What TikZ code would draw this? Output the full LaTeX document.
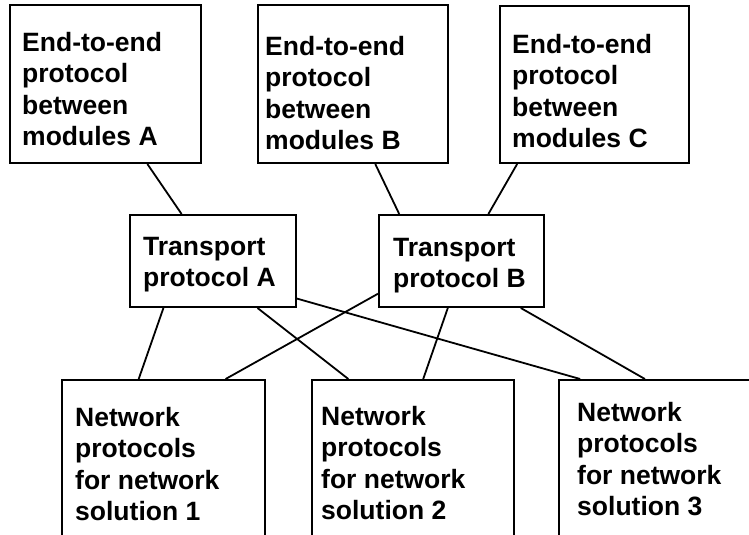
\documentclass[tikz,border=0pt]{standalone}
\usepackage{fontspec}
\setmainfont{Liberation Sans}
\usetikzlibrary{calc}
\begin{document}
\begin{tikzpicture}[x=1pt,y=-1pt,
  box/.style={draw, line width=2pt, inner sep=0pt, anchor=north west},
  txt/.style={inner sep=0pt, anchor=north west, align=left,
    font=\fontsize{26.5}{31.5}\selectfont\bfseries},
  link/.style={line width=1.8pt}]
\useasboundingbox (0,0) rectangle (749,535);
\clip (0,0) rectangle (749,535);
\fill[white] (0,0) rectangle (749,535);

% end-to-end protocol boxes
\node[box, minimum width=191pt, minimum height=158pt] (ea) at (9,4) {};
\node[box, minimum width=190pt, minimum height=158pt] (eb) at (257,4) {};
\node[box, minimum width=189pt, minimum height=157pt] (ec) at (499,5) {};
\node[txt] (ea-t) at (22,32) {End-to-end\\protocol\\between\\modules A};
\node[txt] (eb-t) at (265,36) {End-to-end\\protocol\\between\\modules B};
\node[txt] (ec-t) at (512,34) {End-to-end\\protocol\\between\\modules C};

% transport protocol boxes
\node[box, minimum width=166pt, minimum height=92pt] (ta) at (129,214) {};
\node[box, minimum width=165pt, minimum height=92pt] (tb) at (378,214) {};
\node[txt] (ta-t) at (143,237) {Transport\\protocol A};
\node[txt] (tb-t) at (393,238) {Transport\\protocol B};

% network protocol boxes (run past the lower edge)
\node[box, minimum width=203pt, minimum height=200pt] (n1) at (61,379) {};
\node[box, minimum width=202pt, minimum height=200pt] (n2) at (311,379) {};
\node[box, minimum width=203pt, minimum height=200pt] (n3) at (558,379) {};
\node[txt] (n1-t) at (75,407) {Network\\protocols\\for network\\solution 1};
\node[txt] (n2-t) at (321,406) {Network\\protocols\\for network\\solution 2};
\node[txt] (n3-t) at (577,402) {Network\\protocols\\for network\\solution 3};

% connectors
\draw[link] ($(ea.south west)!0.717!(ea.south east)$) -- ($(ta.north west)!0.313!(ta.north east)$);
\draw[link] ($(eb.south west)!0.616!(eb.south east)$) -- ($(tb.north west)!0.127!(tb.north east)$);
\draw[link] ($(ec.south west)!0.095!(ec.south east)$) -- ($(tb.north west)!0.661!(tb.north east)$);

\draw[link] ($(ta.south west)!0.205!(ta.south east)$) -- ($(n1.north west)!0.379!(n1.north east)$);
\draw[link] ($(ta.south west)!0.765!(ta.south east)$) -- ($(n2.north west)!0.183!(n2.north east)$);
\draw[link] ($(ta.north east)!0.90!(ta.south east)$) -- ($(n3.north west)!0.108!(n3.north east)$);

\draw[link] ($(tb.north west)!0.848!(tb.south west)$) -- ($(n1.north west)!0.803!(n1.north east)$);
\draw[link] ($(tb.south west)!0.418!(tb.south east)$) -- ($(n2.north west)!0.55!(n2.north east)$);
\draw[link] ($(tb.south west)!0.855!(tb.south east)$) -- ($(n3.north west)!0.424!(n3.north east)$);
\end{tikzpicture}
\end{document}
